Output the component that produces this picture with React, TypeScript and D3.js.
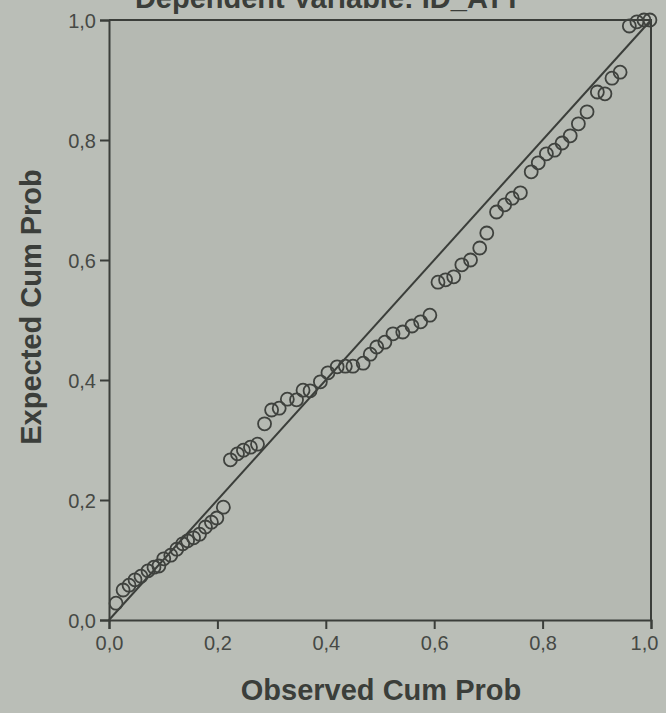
import React, { useEffect, useRef } from 'react';
import * as d3 from 'd3';

// P-P plot: observed vs expected cumulative probability
const observedCumProb = [
  0.013, 0.026, 0.037, 0.048, 0.059, 0.072, 0.083, 0.092, 0.101, 0.114,
  0.125, 0.136, 0.145, 0.156, 0.167, 0.178, 0.189, 0.199, 0.211,
  0.224, 0.237, 0.248, 0.261, 0.274, 0.287, 0.300, 0.314, 0.329, 0.346,
  0.358, 0.371, 0.390, 0.404, 0.421, 0.436, 0.450, 0.469, 0.482, 0.494,
  0.509, 0.524, 0.542, 0.559, 0.575, 0.592, 0.607, 0.621, 0.636, 0.651,
  0.667, 0.684, 0.697, 0.715, 0.730, 0.744, 0.759, 0.779, 0.792, 0.807,
  0.822, 0.836, 0.851, 0.866, 0.882, 0.901, 0.915, 0.928, 0.943, 0.960,
  0.974, 0.987, 0.998,
];
const expectedCumProb = [
  0.028, 0.050, 0.058, 0.067, 0.073, 0.082, 0.088, 0.090, 0.102, 0.108,
  0.118, 0.127, 0.132, 0.137, 0.143, 0.155, 0.163, 0.170, 0.188,
  0.267, 0.277, 0.283, 0.288, 0.293, 0.327, 0.350, 0.353, 0.368, 0.367,
  0.383, 0.382, 0.397, 0.412, 0.422, 0.423, 0.423, 0.428, 0.443, 0.455,
  0.463, 0.477, 0.480, 0.490, 0.497, 0.508, 0.563, 0.567, 0.572, 0.592,
  0.600, 0.620, 0.645, 0.680, 0.692, 0.703, 0.712, 0.747, 0.762, 0.777,
  0.783, 0.795, 0.807, 0.827, 0.847, 0.880, 0.877, 0.903, 0.913, 0.990,
  0.997, 1.000, 1.000,
];
const tickValues = [0, 0.2, 0.4, 0.6, 0.8, 1.0];
const titleText = 'Dependent Variable: ID_ATT';
const xTitle = 'Observed Cum Prob';
const yTitle = 'Expected Cum Prob';

const W = 666;
const H = 713;
const ink = '#3b3e3a';
const font = 'Liberation Sans, Arial, sans-serif';
const fmt = (d: number) => d3.format('.1f')(d).replace('.', ',');

const PPPlot = () => {
  const ref = useRef<SVGSVGElement>(null);

  useEffect(() => {
    const svg = d3.select(ref.current);
    svg.selectAll('*').remove();

    const left = 109, right = 651, top = 20, bottom = 620;

    svg.append('rect')
      .attr('width', W).attr('height', H)
      .attr('fill', '#babeb7');

    svg.append('rect')
      .attr('x', left).attr('y', top)
      .attr('width', right - left).attr('height', bottom - top)
      .attr('fill', '#b5b9b2');

    const x = d3.scaleLinear().domain([0, 1]).range([left, right]);
    const y = d3.scaleLinear().domain([0, 1]).range([bottom, top]);

    // title, cut off by the top edge as in the photo
    svg.append('text')
      .attr('x', 328).attr('y', 8)
      .attr('text-anchor', 'middle')
      .attr('font-family', font)
      .attr('font-weight', 'bold')
      .attr('font-size', 29)
      .attr('fill', ink)
      .text(titleText);

    const xAxis = svg.append('g')
      .attr('transform', `translate(0,${bottom})`)
      .call(d3.axisBottom(x).tickValues(tickValues).tickFormat(fmt as any).tickSize(9).tickPadding(7));

    const yAxis = svg.append('g')
      .attr('transform', `translate(${left},0)`)
      .call(d3.axisLeft(y).tickValues(tickValues).tickFormat(fmt as any).tickSize(9).tickPadding(4));

    [xAxis, yAxis].forEach(g => {
      g.select('.domain').attr('stroke', ink).attr('stroke-width', 2);
      g.selectAll('.tick line').attr('stroke', ink).attr('stroke-width', 2);
      g.selectAll('.tick text')
        .attr('fill', '#464945')
        .attr('font-family', font)
        .attr('font-size', 20);
    });
    yAxis.selectAll('.tick text').attr('dy', '0.35em');
    xAxis.selectAll('.tick text')
      .filter((d: any) => d === 1)
      .attr('dx', -7);

    // frame top and right
    svg.append('path')
      .attr('d', `M${left},${top}H${right}V${bottom}`)
      .attr('fill', 'none')
      .attr('stroke', ink)
      .attr('stroke-width', 2);

    // reference diagonal
    svg.append('line')
      .attr('x1', x(0)).attr('y1', y(0))
      .attr('x2', x(1)).attr('y2', y(1))
      .attr('stroke', ink)
      .attr('stroke-width', 2);

    const points = observedCumProb.map((o, i) => ({ o, e: expectedCumProb[i] }));

    svg.selectAll('.dot')
      .data(points)
      .enter()
      .append('circle')
      .classed('dot', true)
      .attr('cx', d => x(d.o))
      .attr('cy', d => y(d.e))
      .attr('r', 6.5)
      .attr('fill', 'none')
      .attr('stroke', '#3f423e')
      .attr('stroke-width', 1.8);

    svg.append('text')
      .attr('x', 381).attr('y', 700)
      .attr('text-anchor', 'middle')
      .attr('font-family', font)
      .attr('font-weight', 'bold')
      .attr('font-size', 29)
      .attr('fill', ink)
      .text(xTitle);

    svg.append('text')
      .attr('transform', 'translate(41,307) rotate(-90)')
      .attr('text-anchor', 'middle')
      .attr('font-family', font)
      .attr('font-weight', 'bold')
      .attr('font-size', 29)
      .attr('fill', ink)
      .text(yTitle);
  }, []);

  return (
    <svg ref={ref} width={W} height={H} style={{ position: 'absolute', left: 0, top: 0 }}></svg>
  );
};

export default function App() {
  return <PPPlot />;
}
